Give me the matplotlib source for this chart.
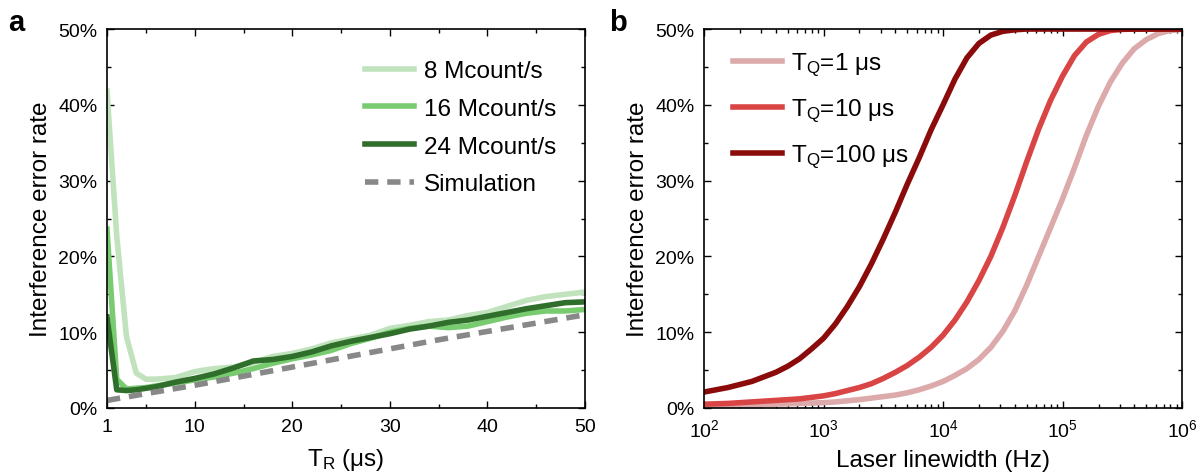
import matplotlib.pyplot as plt
from matplotlib.ticker import MultipleLocator, FuncFormatter, LogLocator, NullFormatter

plt.rcParams['font.family'] = ['Liberation Sans', 'DejaVu Sans']
plt.rcParams['mathtext.fontset'] = 'custom'
plt.rcParams['mathtext.rm'] = 'Liberation Sans'
plt.rcParams['mathtext.it'] = 'Liberation Sans:italic'

# panel a data (error rate in %)
t_r = [1, 2, 3, 4, 5, 6, 8, 10, 12, 14, 16, 18, 20, 22, 24, 26, 28, 30,
       32, 34, 36, 38, 40, 42, 44, 46, 48, 50]
rate_8 = [41.8, 22.7, 9.4, 4.6, 3.8, 3.8, 4.0, 4.8, 5.2, 5.4, 6.0, 6.8, 7.2, 7.8,
          8.6, 9.1, 9.6, 10.5, 10.9, 11.4, 11.6, 12.2, 12.6, 13.4, 14.2, 14.7, 15.0, 15.3]
rate_16 = [23.6, 3.8, 2.5, 2.6, 2.7, 2.9, 3.3, 3.7, 4.1, 4.6, 5.2, 5.9, 6.5, 7.0,
           7.6, 8.5, 9.2, 10.0, 10.5, 10.8, 10.6, 10.8, 11.4, 12.0, 12.5, 12.8, 12.8, 13.0]
rate_24 = [12.0, 2.4, 2.3, 2.4, 2.6, 2.8, 3.4, 3.9, 4.5, 5.3, 6.2, 6.4, 6.8, 7.4,
           8.2, 8.8, 9.3, 9.8, 10.4, 10.8, 11.3, 11.6, 12.1, 12.6, 13.1, 13.5, 13.9, 14.0]
t_sim = [1, 5, 10, 15, 20, 25, 30, 35, 40, 45, 50]
rate_sim = [1.0, 1.9, 3.0, 4.2, 5.4, 6.6, 7.8, 9.0, 10.1, 11.2, 12.3]

# panel b data: log10 of linewidth (Hz) and error rate in %
log_lw = [2.0, 2.1, 2.2, 2.3, 2.4, 2.5, 2.6, 2.7, 2.8, 2.9, 3.0, 3.1, 3.2, 3.3,
          3.4, 3.5, 3.6, 3.7, 3.8, 3.9, 4.0, 4.1, 4.2, 4.3, 4.4, 4.5, 4.6, 4.7,
          4.8, 4.9, 5.0, 5.1, 5.2, 5.3, 5.4, 5.5, 5.6, 5.7, 5.8, 5.9, 6.0]
tq_1 = [0.3, 0.32, 0.35, 0.37, 0.4, 0.45, 0.5, 0.55, 0.6, 0.65, 0.7, 0.8, 0.95, 1.1,
        1.3, 1.5, 1.7, 2.0, 2.4, 2.9, 3.5, 4.3, 5.2, 6.4, 8.0, 10.1, 12.8, 16.2,
        20.0, 23.8, 27.6, 31.7, 36.0, 39.8, 43.0, 45.5, 47.4, 48.6, 49.4, 49.8, 49.95]
tq_10 = [0.5, 0.55, 0.6, 0.7, 0.8, 0.9, 1.0, 1.1, 1.2, 1.4, 1.6, 1.9, 2.3, 2.7,
         3.2, 3.9, 4.7, 5.6, 6.7, 8.0, 9.6, 11.6, 14.0, 16.8, 20.0, 23.8, 28.0, 32.5,
         36.8, 40.6, 43.8, 46.5, 48.3, 49.3, 49.8, 49.95, 50, 50, 50, 50, 50]
tq_100 = [2.1, 2.4, 2.7, 3.1, 3.5, 4.1, 4.7, 5.5, 6.5, 7.8, 9.2, 11.1, 13.4, 16.0,
          19.0, 22.3, 25.8, 29.5, 33.0, 36.7, 40.0, 43.4, 46.2, 48.1, 49.2, 49.7, 49.9, 50,
          50, 50, 50, 50, 50, 50, 50, 50, 50, 50, 50, 50, 50]
linewidth = [10 ** e for e in log_lw]

fig = plt.figure(figsize=(12.02, 4.77), dpi=100)
ax1 = fig.add_axes([0.089, 0.1426, 0.3977, 0.7944])
ax2 = fig.add_axes([0.5857, 0.1426, 0.3977, 0.7944])

pct = FuncFormatter(lambda v, p: '%d%%' % v)

# panel a
ax1.plot(t_r, rate_8, color='#c0e2bc', lw=4, label='8 Mcount/s')
ax1.plot(t_r, rate_16, color='#78cc6f', lw=4, label='16 Mcount/s')
ax1.plot(t_r, rate_24, color='#2f6e2b', lw=4, label='24 Mcount/s')
ax1.plot(t_sim, rate_sim, color='#888888', lw=4, ls=(0, (2.4, 1.6)), label='Simulation')
ax1.set_xlim(1, 50)
ax1.set_ylim(0, 50)
ax1.set_xticks([1, 10, 20, 30, 40, 50])
ax1.xaxis.set_minor_locator(MultipleLocator(5))
ax1.set_xlabel('T$_\\mathrm{R}$ (μs)', fontsize=17.5, labelpad=8)
ax1.set_ylabel('Interference error rate', fontsize=17.5, labelpad=4)
ax1.legend(loc='upper right', frameon=False, fontsize=17.5, handlelength=2.0,
           handletextpad=0.4, labelspacing=0.64, bbox_to_anchor=(0.985, 0.975))

# panel b
ax2.plot(linewidth, tq_1, color='#dcaaab', lw=4, label='T$_\\mathrm{Q}$=1 μs')
ax2.plot(linewidth, tq_10, color='#d94444', lw=4, label='T$_\\mathrm{Q}$=10 μs')
ax2.plot(linewidth, tq_100, color='#8b0b0b', lw=4, label='T$_\\mathrm{Q}$=100 μs')
ax2.set_xscale('log')
ax2.set_xlim(1e2, 1e6)
ax2.set_ylim(0, 50)
ax2.xaxis.set_minor_locator(LogLocator(base=10, subs=range(2, 10), numticks=20))
ax2.xaxis.set_minor_formatter(NullFormatter())
ax2.set_xlabel('Laser linewidth (Hz)', fontsize=17.5, labelpad=7)
ax2.set_ylabel('Interference error rate', fontsize=17.5, labelpad=4)
ax2.legend(loc='upper left', frameon=False, fontsize=17.5, handlelength=2.0,
           handletextpad=0.4, labelspacing=0.76, bbox_to_anchor=(0.015, 1.0))

for ax in (ax1, ax2):
    ax.yaxis.set_major_locator(MultipleLocator(10))
    ax.yaxis.set_minor_locator(MultipleLocator(5))
    ax.yaxis.set_major_formatter(pct)
    ax.tick_params(which='both', direction='in', top=True, right=True, labelsize=14, pad=7)
    ax.tick_params(which='major', length=5, width=1)
    ax.tick_params(which='minor', length=3, width=1)
    for s in ax.spines.values():
        s.set_linewidth(1.2)

fig.text(0.007, 0.935, 'a', fontsize=21, fontweight='bold')
fig.text(0.507, 0.935, 'b', fontsize=21, fontweight='bold')

fig.savefig('out.png', dpi=100)
